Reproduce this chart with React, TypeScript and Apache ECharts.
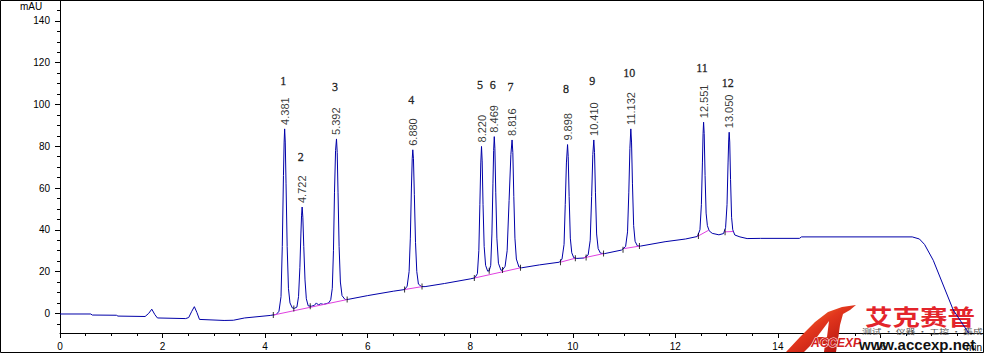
import React, { useEffect, useRef } from 'react';
import * as echarts from 'echarts';

// Chromatogram trace: [time (min), absorbance (mAU)]
const signalTrace: [number, number][] = [
  [0, -0.3], [0.6, -0.3], [0.63, -0.8], [1.1, -0.9], [1.13, -1.3], [1.66, -1.5], [1.73, 0.0], [1.79, 2.0], [1.85, -0.6], [1.9, -2.2],
  [2.45, -2.5], [2.51, -2.0], [2.57, 1.0], [2.62, 3.2], [2.67, 0.4], [2.72, -2.9], [3.2, -3.4], [3.38, -3.3], [3.6, -2.2], [4.1, -1.0], [4.22, -0.5],
  [4.27, 1.0], [4.31, 8], [4.335, 32], [4.358, 66], [4.371, 82], [4.381, 88.3], [4.393, 82], [4.408, 62], [4.43, 32], [4.455, 12], [4.485, 5], [4.53, 2.6], [4.57, 2.4],
  [4.62, 3.0], [4.652, 8], [4.678, 22], [4.698, 38], [4.711, 47], [4.722, 50.9], [4.736, 46], [4.754, 32], [4.778, 16], [4.804, 7], [4.84, 3.6], [4.9, 3.4],
  [4.96, 3.8], [5.0, 5.0], [5.04, 4.0], [5.08, 4.6], [5.14, 4.3], [5.24, 5.0],
  [5.28, 6.5], [5.31, 12], [5.333, 30], [5.353, 58], [5.374, 78], [5.392, 83.5], [5.406, 77], [5.422, 58], [5.443, 32], [5.468, 15], [5.5, 8.5], [5.56, 6.6], [5.62, 6.7],
  [6.0, 8.5], [6.5, 10.6], [6.72, 11.4],
  [6.77, 13], [6.808, 20], [6.832, 36], [6.853, 60], [6.869, 74], [6.88, 78.3], [6.893, 74], [6.91, 57], [6.933, 34], [6.958, 20], [6.99, 14], [7.05, 12.8], [7.12, 12.8],
  [7.5, 14.3], [8.0, 16.5], [8.09, 17.0],
  [8.14, 19], [8.168, 30], [8.188, 52], [8.206, 72], [8.22, 79.9], [8.233, 73], [8.25, 52], [8.272, 32], [8.3, 23], [8.34, 20.2], [8.37, 20.4],
  [8.4, 23], [8.423, 38], [8.443, 62], [8.457, 78], [8.469, 84.6], [8.481, 79], [8.498, 58], [8.52, 36], [8.55, 24], [8.6, 20.6], [8.63, 20.8],
  [8.68, 22.5], [8.72, 30], [8.758, 54], [8.793, 76], [8.816, 83], [8.831, 77], [8.85, 56], [8.872, 36], [8.9, 26], [8.95, 22.2], [9.0, 21.8],
  [9.35, 23.2], [9.74, 24.5],
  [9.79, 26], [9.83, 33], [9.853, 52], [9.876, 72], [9.898, 80.8], [9.911, 75], [9.929, 56], [9.952, 36], [9.98, 29], [10.02, 26.6], [10.08, 26.3],
  [10.22, 26.5],
  [10.3, 28], [10.34, 35], [10.368, 56], [10.391, 76], [10.41, 83], [10.424, 77], [10.442, 58], [10.465, 38], [10.495, 31], [10.54, 28.8], [10.62, 28.6],
  [10.95, 30.3],
  [11.03, 32], [11.068, 39], [11.093, 58], [11.114, 79], [11.132, 88.3], [11.146, 82], [11.164, 62], [11.187, 42], [11.215, 34.5], [11.26, 32.3], [11.32, 32.2],
  [11.8, 34.3], [12.2, 35.6], [12.43, 36.8],
  [12.48, 40], [12.508, 52], [12.528, 72], [12.541, 86], [12.551, 91.5], [12.563, 86], [12.58, 66], [12.6, 48], [12.625, 42], [12.66, 39.5], [12.72, 38.3], [12.85, 37.6], [12.94, 38.2],
  [12.98, 41], [13.008, 52], [13.028, 72], [13.041, 83], [13.05, 86.7], [13.061, 82], [13.077, 64], [13.097, 46], [13.12, 40], [13.16, 37.5], [13.26, 36.6], [13.4, 35.8],
  [13.66, 35.9], [14.42, 35.9], [14.46, 36.6], [16.62, 36.6], [16.76, 35.6], [16.86, 33.0], [17.03, 25.4], [17.42, 1.6], [17.72, -9.4],
];

// Integration baselines drawn under the peaks
const integrationSegments: [number, number][][] = [
  [[4.16, -0.8], [5.6, 6.6]],
  [[6.72, 11.4], [7.06, 12.8]],
  [[8.08, 16.9], [8.98, 21.8]],
  [[9.76, 24.5], [10.05, 26.4]],
  [[10.2, 26.5], [10.6, 28.6]],
  [[11.0, 31.0], [11.3, 32.2]],
  [[12.43, 36.8], [12.65, 39.8]],
  [[12.96, 39.0], [13.13, 39.2]],
];

// Peak start / end markers
const integrationMarks: [number, number][] = [
  [4.16, -0.8], [4.56, 2.3], [4.88, 3.4], [5.6, 6.6], [6.72, 11.4], [7.06, 12.8], [8.08, 16.9], [8.37, 20.4], [8.63, 20.8],
  [8.98, 21.8], [9.76, 24.5], [10.05, 26.4], [10.26, 26.7], [10.6, 28.6], [10.98, 30.5], [11.3, 32.2], [12.45, 37.0], [12.97, 38.8],
];

const peakNumbers = ['1', '2', '3', '4', '5', '6', '7', '8', '9', '10', '11', '12'];
const peakTimes = [4.381, 4.722, 5.392, 6.88, 8.22, 8.469, 8.816, 9.898, 10.41, 11.132, 12.551, 13.05];
const peakTimeLabels = ['4.381', '4.722', '5.392', '6.880', '8.220', '8.469', '8.816', '9.898', '10.410', '11.132', '12.551', '13.050'];
const peakApex = [88.3, 50.9, 83.5, 78.3, 79.9, 84.6, 83.0, 80.8, 83.0, 88.3, 91.5, 86.7];
const peakTagY = [111.3, 74.9, 108.5, 102.1, 109.3, 109.3, 108.5, 107.4, 111.2, 115.0, 117.3, 110.1];

const yMajorTicks = [0, 20, 40, 60, 80, 100, 120, 140];
const yMinorTicks = [-5, 0, 5, 10, 15, 20, 25, 30, 35, 40, 45, 50, 55, 60, 65, 70, 75, 80, 85, 90, 95, 100, 105, 110, 115, 120, 125, 130, 135, 140, 145];

export default function App() {
  const ref = useRef<HTMLDivElement>(null);
  useEffect(() => {
    if (!ref.current) return;
    const chart = echarts.init(ref.current, null, { renderer: 'svg' });
    const axisFont = { color: '#000', fontSize: 10, fontFamily: 'Liberation Sans, Arial, sans-serif' };
    const option: any = {
      animation: false,
      backgroundColor: '#fff',
      grid: { left: 60, right: 1, top: 0, bottom: 20, containLabel: false },
      xAxis: {
        type: 'value', min: 0, max: 18, interval: 2,
        axisLine: { show: true, onZero: false, lineStyle: { color: '#000', width: 1 } },
        axisTick: { show: true, length: 5, lineStyle: { color: '#000' } },
        minorTick: { show: true, splitNumber: 4, length: 3, lineStyle: { color: '#000' } },
        splitLine: { show: false },
        axisLabel: { ...axisFont, margin: 8, showMaxLabel: false },
      },
      yAxis: [
        {
          type: 'value', min: -9.4, max: 150, position: 'left',
          axisLine: { show: true, onZero: false, lineStyle: { color: '#000', width: 1 } },
          axisTick: { show: true, length: 5, customValues: yMajorTicks, lineStyle: { color: '#000' } },
          axisLabel: { ...axisFont, margin: 10, customValues: yMajorTicks },
          splitLine: { show: false },
        },
        {
          type: 'value', min: -9.4, max: 150, position: 'left', offset: 0,
          axisLine: { show: false },
          axisTick: { show: true, length: 3, customValues: yMinorTicks, lineStyle: { color: '#000' } },
          axisLabel: { show: false },
          splitLine: { show: false },
        },
      ],
      series: [
        {
          type: 'line', name: 'signal', data: signalTrace, showSymbol: false, symbol: 'none',
          lineStyle: { color: '#0000a8', width: 1 }, z: 3,
        },
        ...integrationSegments.map((seg) => ({
          type: 'line', data: seg, showSymbol: false, symbol: 'none',
          lineStyle: { color: '#e040e0', width: 1 }, z: 4,
        })),
        {
          type: 'scatter', data: integrationMarks, symbol: 'rect', symbolSize: [1, 6],
          itemStyle: { color: '#000' }, z: 5,
        },
        {
          type: 'scatter', data: peakTimes.map((t, i) => [t, peakApex[i]]), symbolSize: 0,
          itemStyle: { color: 'rgba(0,0,0,0)' },
          label: {
            show: true, position: 'top', distance: 4, rotate: 90, align: 'left', verticalAlign: 'middle',
            formatter: (p: any) => peakTimeLabels[p.dataIndex],
            color: '#000', fontSize: 11, fontFamily: 'Liberation Sans, Arial, sans-serif', textBorderWidth: 0,
          },
          z: 6,
        },
        {
          type: 'scatter', data: peakTimes.map((t, i) => [t, peakTagY[i]]), symbolSize: 0,
          itemStyle: { color: 'rgba(0,0,0,0)' },
          label: {
            show: true, position: [0, 0], align: 'center', verticalAlign: 'middle', offset: [-1.5, 0],
            formatter: (p: any) => peakNumbers[p.dataIndex],
            color: '#000', fontSize: 12, fontFamily: 'Liberation Serif, Times New Roman, serif',
            textBorderColor: '#000', textBorderWidth: 0.35,
          },
          z: 6,
        },
      ],
      graphic: [
        {
          type: 'text', x: 20, y: 1, z: 5,
          style: { text: 'mAU', fill: '#000', fontSize: 10, fontFamily: 'Liberation Sans, Arial, sans-serif', align: 'left', verticalAlign: 'top' },
        },
        {
          type: 'group', z: 1,
          children: [
            {
              type: 'polygon', z: 1,
              shape: { points: [[786, 352], [800, 337], [815, 322], [828, 312], [842, 307], [856, 305], [850, 310], [843, 314], [840, 325], [838, 340], [836, 352], [824, 352], [825, 344], [812, 344], [804, 352]] },
              style: {
                fill: { type: 'linear', x: 0, y: 0, x2: 1, y2: 1, colorStops: [{ offset: 0, color: '#f7a035' }, { offset: 0.45, color: '#e2361d' }, { offset: 1, color: '#a80c0c' }] },
              },
            },
            {
              type: 'polygon', z: 1,
              shape: { points: [[817, 337], [829, 321], [827, 337]] },
              style: { fill: '#ffffff' },
            },
            {
              type: 'text', x: 811, y: 337, z: 2,
              style: { text: 'ACCEXP', fill: '#d42020', stroke: '#ffffff', lineWidth: 1, fontSize: 12, fontWeight: 'bold', fontStyle: 'italic', fontFamily: 'Liberation Sans, Arial, sans-serif', align: 'left', verticalAlign: 'top' },
            },
            {
              type: 'text', x: 865, y: 304, scaleX: 1.25, z: 2,
              style: { text: '艾克赛普', fill: '#e3242b', fontSize: 22, fontWeight: 'bold', fontFamily: 'Noto Sans CJK SC, sans-serif', align: 'left', verticalAlign: 'top' },
            },
            {
              type: 'text', x: 862, y: 327, scaleX: 1.4, z: 3,
              style: { text: '测试 · 仪器 · 工控 · 集成', fill: '#555555', fontSize: 7, fontFamily: 'Noto Sans CJK SC, sans-serif', align: 'left', verticalAlign: 'top' },
            },
            {
              type: 'text', x: 859, y: 337, z: 2,
              style: { text: 'www.accexp.net', fill: '#111', fontSize: 15, fontWeight: 'bold', fontFamily: 'Liberation Sans, Arial, sans-serif', align: 'left', verticalAlign: 'top' },
            },
          ],
        },
        {
          type: 'text', x: 966, y: 342, z: 3,
          style: { text: 'min', fill: '#000', fontSize: 10, fontFamily: 'Liberation Sans, Arial, sans-serif', align: 'left', verticalAlign: 'top' },
        },
        {
          type: 'rect', z: 10, silent: true,
          shape: { x: 0.5, y: 0.5, width: 983, height: 352 },
          style: { fill: 'none', stroke: '#000', lineWidth: 1 },
        },
      ],
    };
    chart.setOption(option);
    return () => chart.dispose();
  }, []);
  return <div ref={ref} style={{ position: 'fixed', left: 0, top: 0, width: 984, height: 353, background: '#fff' }} />;
}
